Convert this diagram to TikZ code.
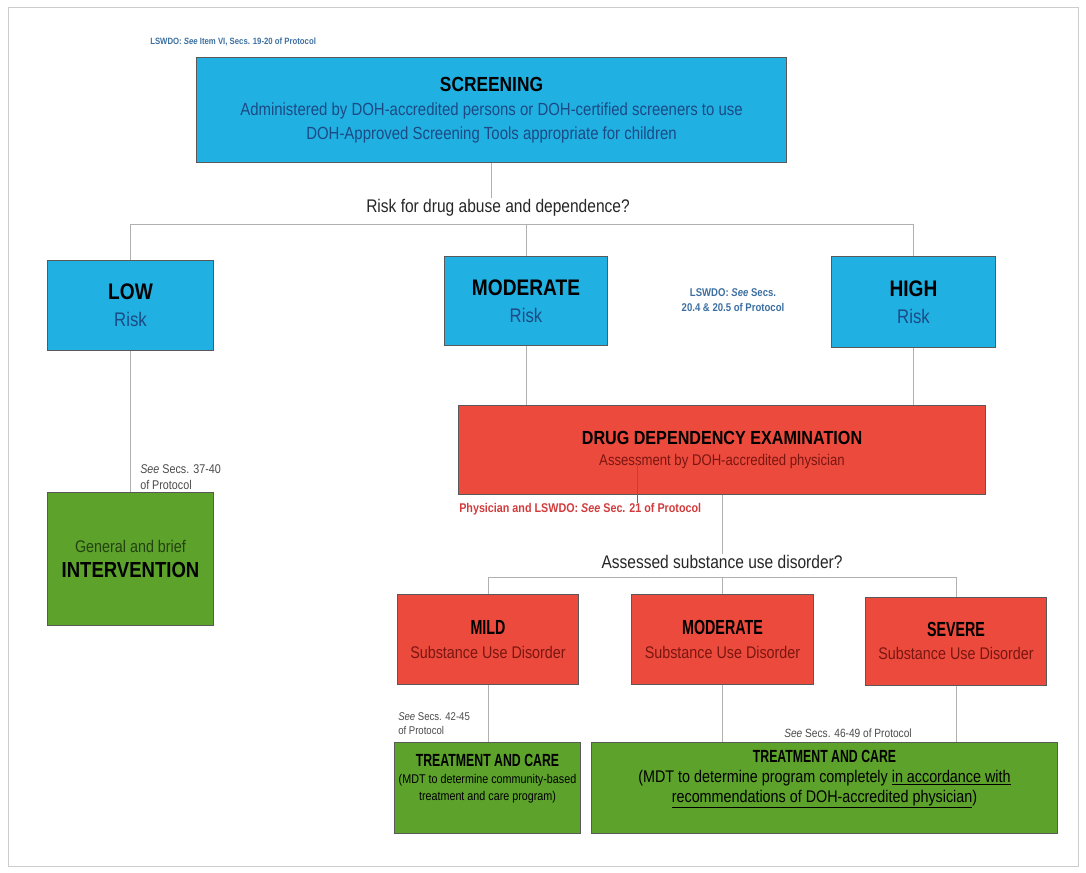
\documentclass[tikz,border=0pt]{standalone}
\usepackage{fontspec}
\setmainfont{Liberation Sans}[FakeStretch=0.85]
\newfontfamily\condensed{Liberation Sans}[FakeStretch=0.7]
\usepackage{tikz}
\usetikzlibrary{positioning}

\definecolor{riskblue}{HTML}{21B0E2}
\definecolor{examred}{HTML}{EC4A3D}
\definecolor{caregreen}{HTML}{5CA22B}
\definecolor{risktext}{HTML}{1B4A84}
\definecolor{lswdoblue}{HTML}{3C6FA0}
\definecolor{examtext}{HTML}{7A1610}
\definecolor{physred}{HTML}{D23B3B}
\definecolor{caretext}{HTML}{24420F}
\definecolor{notegray}{HTML}{4A4A4A}
\definecolor{linkgray}{HTML}{B0B0B0}

\newcommand{\fs}[2]{\fontsize{#1}{#2}\selectfont}

\begin{document}
\begin{tikzpicture}[x=0.025cm, y=-0.025cm,
    box/.style={draw=black!65, line width=0.7pt, align=center, inner sep=2pt},
    bluebox/.style={box, fill=riskblue},
    redbox/.style={box, fill=examred},
    greenbox/.style={box, fill=caregreen},
    link/.style={draw=linkgray, line width=0.5pt},
    note/.style={inner sep=0pt, align=left, font=\fs{8}{10}, text=notegray},
    question/.style={inner sep=1pt, font=\fs{13}{15}, text=black!85}]

    \useasboundingbox (0,0) rectangle (1086,873);
    \draw[gray!40, line width=0.5pt] (8,7) rectangle (1078,866);

    % screening
    \node[bluebox, minimum width=14.725cm, minimum height=2.6cm, font=\fs{12.5}{17}] (screen) at (491.5,110)
        {{\fs{14.5}{17}\bfseries SCREENING}\\
         {\color{risktext}Administered by DOH-accredited persons or DOH-certified screeners to use}\\
         {\color{risktext}DOH-Approved Screening Tools appropriate for children}};
    \node[note, anchor=south west, text=lswdoblue, font=\fs{6.5}{8}\bfseries] (noteScreen) at (150,46)
        {LSWDO: \textit{See} Item VI, Secs. 19-20 of Protocol};

    \node[question] (riskq) at (498,208) {Risk for drug abuse and dependence?};

    % risk levels
    \node[bluebox, minimum width=4.125cm, minimum height=2.225cm, font=\fs{14}{19}] (low) at (130.5,305.5)
        {{\fs{16}{18}\bfseries LOW}\\{\color{risktext}Risk}};
    \node[bluebox, minimum width=4.05cm, minimum height=2.2cm, font=\fs{14}{19}] (modr) at (526,301)
        {{\fs{16}{18}\bfseries MODERATE}\\{\color{risktext}Risk}};
    \node[bluebox, minimum width=4.075cm, minimum height=2.25cm, font=\fs{14}{19}] (high) at (913.5,302)
        {{\fs{16}{18}\bfseries HIGH}\\{\color{risktext}Risk}};
    \node[note, align=center, text=lswdoblue, font=\fs{8}{10.5}\bfseries] (noteHigh) at (733,300)
        {LSWDO: \textit{See} Secs.\\20.4 \& 20.5 of Protocol};

    \coordinate (rowA) at (132,224);
    \draw[link] (screen.south) -- (screen.south |- riskq.north);
    \draw[link] (low.north) -- (low.north |- rowA) -- (high.north |- rowA) -- (high.north);
    \draw[link] (modr.north |- rowA) -- (modr.north);

    % low risk branch
    \node[greenbox, minimum width=4.125cm, minimum height=3.3cm, font=\fs{12}{18}] (interv) at (130.5,559)
        {{\color{caretext}General and brief}\\{\fs{15.5}{18}\bfseries INTERVENTION}};
    \node[note, anchor=south west, font=\fs{9}{11.5}] (noteLow) at (140,490) {\textit{See} Secs. 37-40\\of Protocol};
    \draw[link] (low) -- (interv);

    % examination
    \node[redbox, minimum width=13.15cm, minimum height=2.2cm, font=\fs{11}{15}] (dde) at (722,450)
        {{\fs{13.5}{16}\bfseries DRUG DEPENDENCY EXAMINATION}\\{\color{examtext}Assessment by DOH-accredited physician}};
    \draw[link] (modr.south) -- (modr.south |- dde.north);
    \draw[link] (high.south) -- (high.south |- dde.north);
    \node[note, anchor=north west, text=physred, font=\fs{9}{11}\bfseries] (notePhys) at (459,503)
        {Physician and LSWDO: \textit{See} Sec. 21 of Protocol};
    \coordinate (physTick) at (637,464);
    \draw[black!60, line width=0.5pt] (physTick) -- (physTick |- notePhys.north);

    \node[question] (sudq) at (722,562) {Assessed substance use disorder?};
    \draw[link] (dde.south) -- (sudq.north);

    % disorder levels
    \node[redbox, minimum width=4.5cm, minimum height=2.225cm, font=\fs{12}{17}] (mild) at (488,639.5)
        {{\condensed\fs{14.5}{17}\bfseries MILD}\\{\color{examtext}Substance Use Disorder}};
    \node[redbox, minimum width=4.525cm, minimum height=2.225cm, font=\fs{12}{17}] (mods) at (722.5,639.5)
        {{\condensed\fs{14.5}{17}\bfseries MODERATE}\\{\color{examtext}Substance Use Disorder}};
    \node[redbox, minimum width=4.5cm, minimum height=2.2cm, font=\fs{12}{17}] (sev) at (956,641)
        {{\condensed\fs{14.5}{17}\bfseries SEVERE}\\{\color{examtext}Substance Use Disorder}};

    \coordinate (rowB) at (487,577);
    \draw[link] (mild.north) -- (mild.north |- rowB) -- (sev.north |- rowB) -- (sev.north);
    \draw[link] (mods.north |- rowB) -- (mods.north);

    % treatment
    \node[greenbox, minimum width=4.625cm, minimum height=2.275cm, font=\fs{9}{12}] (care1) at (487.5,787.5)
        {{\condensed\fs{12.5}{16}\bfseries TREATMENT AND CARE}\\(MDT to determine community-based\\treatment and care program)\\[2pt]};
    \node[greenbox, minimum width=11.625cm, minimum height=2.275cm, font=\fs{12}{14}] (care2) at (824.5,787.5)
        {{\condensed\fs{12.5}{16}\bfseries TREATMENT AND CARE}\\(MDT to determine program completely \underline{in accordance with}\\\underline{recommendations of DOH-accredited physician})\\[2pt]};
    \node[note, anchor=south west] (noteMild) at (398,735) {\textit{See} Secs. 42-45\\of Protocol};
    \node[note, font=\fs{8.5}{10}] (noteCare) at (848,733) {\textit{See} Secs. 46-49 of Protocol};

    \draw[link] (mild.south) -- (mild.south |- care1.north);
    \draw[link] (mods.south) -- (mods.south |- care2.north);
    \draw[link] (sev.south) -- (sev.south |- care2.north);
\end{tikzpicture}
\end{document}
